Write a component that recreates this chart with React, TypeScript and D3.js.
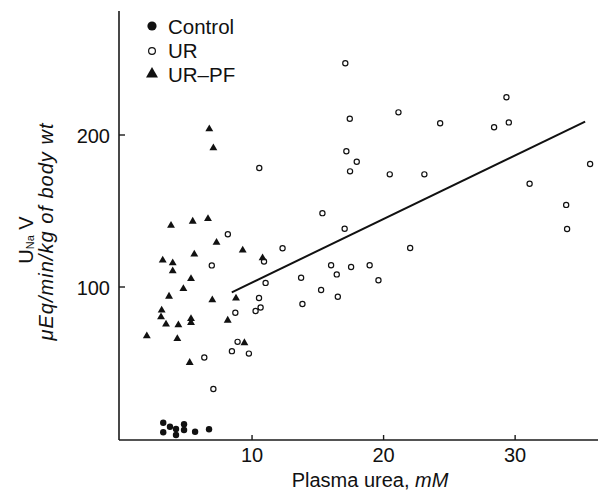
import React from "react";
import * as d3 from "d3";

// ---- Data ----
const controlX = [3.25, 3.25, 3.76, 4.22, 4.22, 4.83, 4.83, 5.67, 6.73];
const controlY = [10.7, 4.4, 8.1, 6.6, 2.6, 9.7, 5.9, 4.8, 6.4];

const urX = [17.09, 17.43, 21.13, 24.3, 29.34, 28.4, 29.52, 17.17, 17.96, 17.45, 20.47, 23.1, 35.7, 31.1, 33.88, 33.95, 15.35, 17.04, 22.02, 12.32, 16.01, 17.53, 18.94, 16.44, 13.73, 19.61, 15.25, 16.52, 13.83, 10.55, 10.91, 11.03, 10.53, 10.65, 10.27, 8.73, 8.16, 6.94, 8.9, 8.47, 9.76, 6.37, 7.06];
const urY = [247.2, 210.7, 214.9, 207.7, 224.8, 205.1, 208.3, 189.3, 182.4, 176.1, 174.1, 174.1, 180.9, 167.9, 154.0, 138.2, 148.6, 138.3, 125.7, 125.5, 114.3, 113.2, 114.3, 108.3, 106.1, 104.4, 98.0, 93.6, 88.8, 178.3, 116.8, 102.7, 92.8, 86.5, 84.2, 83.1, 134.7, 114.2, 63.9, 57.8, 56.2, 53.6, 32.9];

const urpfX = [6.75, 7.06, 3.84, 5.49, 6.65, 7.3, 9.29, 10.8, 3.21, 3.97, 3.97, 5.61, 5.36, 4.78, 3.69, 6.98, 8.78, 3.13, 3.08, 3.46, 4.4, 5.36, 5.36, 8.15, 2.0, 4.32, 5.26, 9.42];
const urpfY = [204.6, 192.1, 141.1, 143.8, 145.5, 129.9, 124.8, 119.7, 118.2, 116.4, 111.2, 122.2, 106.1, 99.5, 94.5, 92.1, 93.2, 85.3, 80.9, 76.1, 75.7, 79.8, 77.2, 78.7, 68.4, 66.6, 50.9, 63.9];

const fitX = [8.46, 35.32];
const fitY = [96.5, 208.8];

const xTicks = [10, 20, 30];
const yTicks = [100, 200];

const legendLabels = ["Control", "UR", "UR\u2013PF"];

export default function App() {
  const W = 601;
  const H = 496;
  const x = d3.scaleLinear().domain([0, 36.3]).range([120.5, 598]);
  const y = d3.scaleLinear().domain([0, 200]).range([439, 135]);
  const axisX = 119;
  const axisY = 440;
  const axisTop = 11;
  const axisRight = 598;
  const font = "'Liberation Sans', Arial, Helvetica, sans-serif";
  const tri = d3.symbol().type(d3.symbolTriangle).size(27)();
  const triLegend = d3.symbol().type(d3.symbolTriangle).size(62)();
  const line = d3
    .line<number>()
    .x((d, i) => x(fitX[i]))
    .y((d, i) => y(fitY[i]));

  return (
    <svg
      width={W}
      height={H}
      style={{ position: "absolute", left: 0, top: 0, background: "#fff" }}
      fontFamily={font}
    >
      {/* axes */}
      <line x1={axisX} y1={axisTop} x2={axisX} y2={axisY} stroke="#1a1a1a" strokeWidth={1.6} />
      <line x1={axisX} y1={axisY} x2={axisRight} y2={axisY} stroke="#1a1a1a" strokeWidth={1.6} />
      {yTicks.map((t) => (
        <g key={"y" + t}>
          <line x1={axisX} x2={axisX + 6} y1={y(t)} y2={y(t)} stroke="#1a1a1a" strokeWidth={1.4} />
          <text x={110} y={y(t) + 8} textAnchor="end" fontSize={20} fill="#111">
            {t}
          </text>
        </g>
      ))}
      {xTicks.map((t) => (
        <g key={"x" + t}>
          <line x1={x(t)} x2={x(t)} y1={axisY} y2={axisY - 5} stroke="#1a1a1a" strokeWidth={1.4} />
          <text x={x(t)} y={462} textAnchor="middle" fontSize={20} fill="#111">
            {t}
          </text>
        </g>
      ))}

      {/* axis titles */}
      <text x={370} y={487} textAnchor="middle" fontSize={20} fill="#111">
        Plasma urea, <tspan fontStyle="italic">mM</tspan>
      </text>
      <g transform="translate(33,240) rotate(-90)">
        <text x={0} y={0} textAnchor="middle" fontSize={20} fill="#111">
          U<tspan fontSize={11} dy={1}>Na</tspan>
          <tspan dy={-1}> V</tspan>
        </text>
      </g>
      <g transform="translate(53,232) rotate(-90)">
        <text
          x={0}
          y={0}
          textAnchor="middle"
          fontSize={20}
          fontStyle="italic"
          fill="#111"
          textLength={217}
          lengthAdjust="spacing"
        >
          {"\u03bcEq/min/kg of body wt"}
        </text>
      </g>

      {/* fit line */}
      <path d={line(fitX) || ""} fill="none" stroke="#111" strokeWidth={2} />

      {/* data */}
      {controlX.map((v, i) => (
        <circle key={"c" + i} cx={x(v)} cy={y(controlY[i])} r={3.2} fill="#111" />
      ))}
      {urX.map((v, i) => (
        <circle
          key={"u" + i}
          cx={x(v)}
          cy={y(urY[i])}
          r={2.6}
          fill="#fff"
          stroke="#111"
          strokeWidth={1.2}
        />
      ))}
      {urpfX.map((v, i) => (
        <path key={"p" + i} d={tri} transform={`translate(${x(v)},${y(urpfY[i]) + 1})`} fill="#111" />
      ))}

      {/* legend */}
      <circle cx={152} cy={26} r={4.6} fill="#111" />
      <circle cx={152} cy={51} r={3.4} fill="#fff" stroke="#111" strokeWidth={1.2} />
      <path d={triLegend} transform="translate(152,74)" fill="#111" />
      {legendLabels.map((l, i) => (
        <text key={l} x={168} y={33.5 + i * 24} fontSize={20.5} fill="#111">
          {l}
        </text>
      ))}
    </svg>
  );
}
